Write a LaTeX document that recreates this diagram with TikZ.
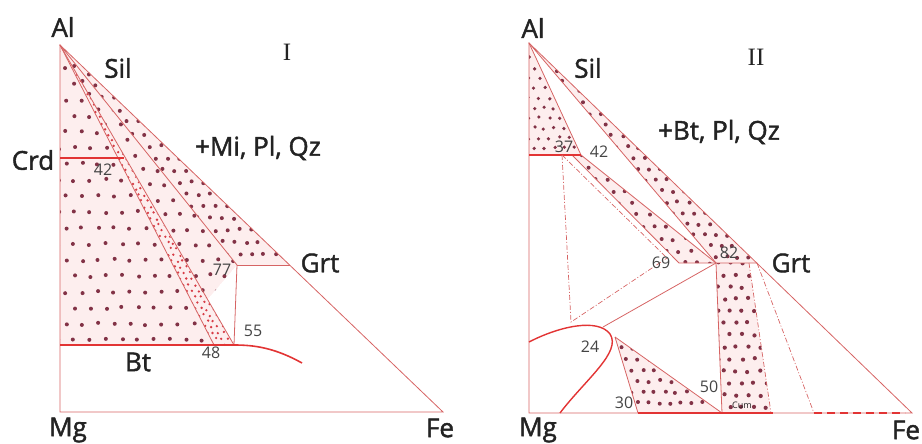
\documentclass[tikz,border=0pt]{standalone}
\usepackage{fontspec}
\setmainfont{Open Sans}
\newfontfamily\lblfont{Open Sans}[FakeBold=1.6]
\newfontfamily\romfont{Liberation Serif}
\usepackage{tikz}

\definecolor{phaseline}{RGB}{214,100,100}
\definecolor{boundred}{RGB}{226,52,52}
\definecolor{grain}{RGB}{130,50,70}
\definecolor{grainred}{RGB}{215,60,70}
\definecolor{grainbg}{RGB}{253,238,238}
\definecolor{lbl}{RGB}{35,35,35}

\tikzset{
  tie/.style={phaseline, line width=0.8pt},
  bnd/.style={boundred, line width=1.6pt},
  dashdot/.style={phaseline, line width=0.7pt, dash pattern=on 5pt off 2pt on 1pt off 2pt},
  lab/.style={text=lbl, inner sep=0pt, font=\lblfont\fontsize{26}{26}\selectfont},
  num/.style={text=lbl!85, inner sep=0pt, font=\fontsize{16}{16}\selectfont},
  rom/.style={text=lbl, inner sep=0pt, font=\romfont\fontsize{25}{25}\selectfont},
}

% dotted field: path, xmin, xmax, ymin, ymax, step, radius, colour
\newcommand{\dotregion}[8]{%
  \begin{scope}
    \clip #1;
    \fill[grainbg] #1;
    \pgfmathsetmacro{\ynext}{#4+#6}
    \pgfmathsetmacro{\xnext}{#2+#6}
    \foreach \yy [count=\r] in {#4,\ynext,...,#5} {
      \pgfmathsetmacro{\xo}{mod(\r,2)*#6/2}
      \foreach \xx in {#2,\xnext,...,#3}
        \fill[#8] (\xx+\xo+1.2*rand,\yy+1.2*rand) circle (#7);
    }
  \end{scope}}

\begin{document}
\begin{tikzpicture}[x=1pt,y=-1pt]
  \useasboundingbox (0,0) rectangle (922,444);
  \pgfmathsetseed{7}

  % ---- diagram I ----
  \coordinate (AlA) at (60,45);
  \coordinate (MgA) at (60,412);
  \coordinate (FeA) at (443,412);
  \coordinate (CrdA) at (60,158);
  \coordinate (CrdA2) at (124,158);
  \coordinate (BtA) at (60,345);
  \coordinate (P48) at (214,345);
  \coordinate (P55) at (234,345);
  \coordinate (P77) at (237,265);
  \coordinate (GrtA) at (290,265);
  \coordinate (WedA) at (207,300);
  \coordinate (BtEnd) at (302,363);

  \dotregion{(AlA) -- (BtA) -- (P48) -- cycle}{50}{230}{52}{345}{16}{2}{grain}
  \dotregion{(AlA) -- (P48) -- (P55) -- cycle}{60}{240}{45}{345}{6}{1.3}{grainred}
  \dotregion{(AlA) -- (P77) -- (WedA) -- cycle}{60}{240}{50}{300}{15}{2}{grain}
  \dotregion{(AlA) -- (P77) -- (GrtA) -- cycle}{60}{295}{50}{265}{12}{2}{grain}

  \draw[tie] (AlA) -- (MgA) -- (FeA) -- cycle;
  \draw[tie] (AlA) -- (P48);
  \draw[tie] (AlA) -- (P55);
  \draw[tie] (AlA) -- (P77);
  \draw[tie] (P77) -- (GrtA);
  \draw[tie] (P77) -- (P55);
  \draw[bnd] (CrdA) -- (CrdA2);
  \draw[bnd] (BtA) -- (P55) .. controls (255,345) and (275,348) .. (BtEnd);

  \node[lab] (alA) at (63,27) {Al};
  \node[lab] (silA) at (118,68) {Sil};
  \node[rom] (romA) at (287,52) {I};
  \node[lab] (crdA) at (33,160) {Crd};
  \node[num] (n42A) at (103,170) {42};
  \node[lab] (assA) at (258,148) {+Mi, Pl, Qz};
  \node[lab] (grtA) at (320,263) {Grt};
  \node[num] (n77) at (222,270) {77};
  \node[num] (n55) at (253,331) {55};
  \node[num] (n48) at (211,353) {48};
  \node[lab] (btA) at (138,362) {Bt};
  \node[lab] (mgA) at (68,430) {Mg};
  \node[lab] (feA) at (440,428) {Fe};

  % ---- diagram II ----
  \coordinate (AlB) at (529,43);
  \coordinate (MgB) at (529,413);
  \coordinate (FeB) at (912,413);
  \coordinate (CrdB) at (529,155);
  \coordinate (P37) at (562,155);
  \coordinate (P42b) at (572,155);
  \coordinate (P42) at (581,155);
  \coordinate (P69) at (679,263);
  \coordinate (P69w) at (667,258);
  \coordinate (P82) at (716,263);
  \coordinate (G1) at (749,263);
  \coordinate (GrtB) at (757,263);
  \coordinate (G2) at (771,413);
  \coordinate (DdEnd) at (814,413);
  \coordinate (DashEnd) at (905,413);
  \coordinate (Q) at (571,322);
  \coordinate (BtTop) at (603,327);
  \coordinate (BtL) at (529,342);
  \coordinate (BtBot) at (560,413);
  \coordinate (P24) at (615,337);
  \coordinate (P30) at (638,413);
  \coordinate (P50) at (722,413);
  \coordinate (CumEnd) at (773,413);

  \dotregion{(AlB) -- (CrdB) -- (P42) -- cycle}{529}{585}{48}{155}{10}{1.8}{grain}
  \dotregion{(P42b) -- (P42) -- (P82) -- (P69) -- cycle}{565}{720}{155}{263}{12}{2}{grain}
  \dotregion{(AlB) -- (P82) -- (GrtB) -- cycle}{529}{760}{48}{263}{11}{2}{grain}
  \dotregion{(P24) -- (P30) -- (P50) -- cycle}{610}{725}{337}{413}{11}{2}{grain}
  \dotregion{(P82) -- (G1) -- (G2) -- (P50) -- cycle}{712}{775}{263}{413}{12}{2.1}{grain}

  \draw[tie] (AlB) -- (MgB) -- (FeB) -- cycle;
  \draw[tie] (AlB) -- (P42);
  \draw[tie] (AlB) -- (P82);
  \draw[tie] (P42) -- (P82);
  \draw[tie] (P42b) -- (P69) -- (GrtB);
  \draw[bnd] (CrdB) -- (P42);
  \draw[dashdot] (P37) -- (Q) -- (P69w);
  \draw[dashdot] (P37) -- (P69w);
  \draw[tie] (BtTop) -- (P82);
  \draw[tie] (P82) -- (P50);
  \draw[tie] (P24) -- (P30);
  \draw[tie] (P24) -- (P50);
  \draw[dashdot] (G1) -- (G2);
  \draw[dashdot] (GrtB) -- (DdEnd);
  \draw[bnd] (P30) -- (CumEnd);
  \draw[bnd, dash pattern=on 8pt off 5pt] (DdEnd) -- (DashEnd);
  \draw[bnd, line width=1.4pt] (BtL) .. controls (560,326) and (598,318) .. (610,334)
    .. controls (622,352) and (585,380) .. (BtBot);

  \node[lab] (alB) at (533,28) {Al};
  \node[lab] (silB) at (588,68) {Sil};
  \node[rom] (romB) at (756,57) {II};
  \node[lab] (assB) at (719,132) {+Bt, Pl, Qz};
  \node[num] (n37) at (564,147) {37};
  \node[num] (n42B) at (599,152) {42};
  \node[num] (n69) at (661,263) {69};
  \node[num] (n82) at (729,253) {82};
  \node[lab] (grtB) at (791,263) {Grt};
  \node[num] (n24) at (590,347) {24};
  \node[num] (n30) at (624,403) {30};
  \node[num] (n50) at (709,387) {50};
  \node[text=lbl, inner sep=0pt, font=\fontsize{9}{9}\selectfont] (cum) at (742,405) {Cum};
  \node[lab] (mgB) at (538,430) {Mg};
  \node[lab] (feB) at (906,430) {Fe};
\end{tikzpicture}
\end{document}
